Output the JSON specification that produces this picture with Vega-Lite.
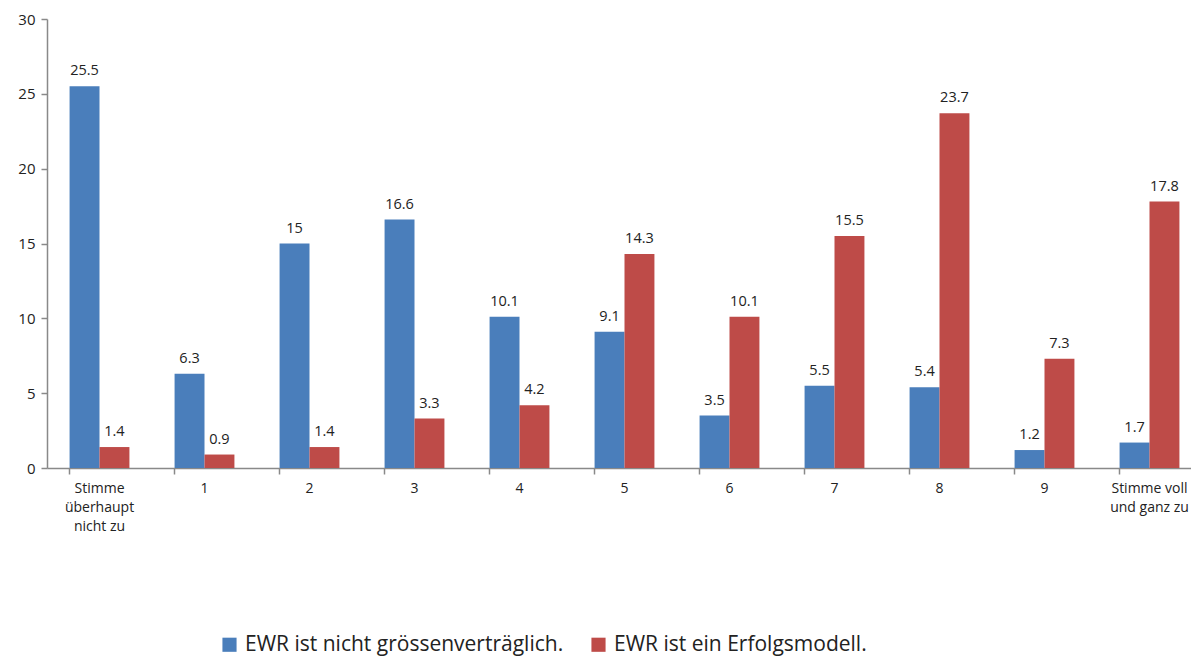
{
  "$schema": "https://vega.github.io/schema/vega-lite/v6.json",
  "autosize": {"type": "none"},
  "padding": {"left": 47, "top": 19, "right": 0, "bottom": 190},
  "width": 1155,
  "height": 449,
  "background": "white",
  "config": {
    "view": {"stroke": null},
    "font": "Open Sans",
    "axis": {"labelFont": "Open Sans", "labelColor": "#222", "domainColor": "#898989", "tickColor": "#898989", "domainWidth": 1.5, "tickWidth": 1.5, "grid": false, "title": null}
  },
  "data": {
    "values": [
      {"cat": "Stimme|überhaupt|nicht zu", "series": "EWR ist nicht grössenverträglich.", "v": 25.5},
      {"cat": "Stimme|überhaupt|nicht zu", "series": "EWR ist ein Erfolgsmodell.", "v": 1.4},
      {"cat": "1", "series": "EWR ist nicht grössenverträglich.", "v": 6.3},
      {"cat": "1", "series": "EWR ist ein Erfolgsmodell.", "v": 0.9},
      {"cat": "2", "series": "EWR ist nicht grössenverträglich.", "v": 15},
      {"cat": "2", "series": "EWR ist ein Erfolgsmodell.", "v": 1.4},
      {"cat": "3", "series": "EWR ist nicht grössenverträglich.", "v": 16.6},
      {"cat": "3", "series": "EWR ist ein Erfolgsmodell.", "v": 3.3},
      {"cat": "4", "series": "EWR ist nicht grössenverträglich.", "v": 10.1},
      {"cat": "4", "series": "EWR ist ein Erfolgsmodell.", "v": 4.2},
      {"cat": "5", "series": "EWR ist nicht grössenverträglich.", "v": 9.1},
      {"cat": "5", "series": "EWR ist ein Erfolgsmodell.", "v": 14.3},
      {"cat": "6", "series": "EWR ist nicht grössenverträglich.", "v": 3.5},
      {"cat": "6", "series": "EWR ist ein Erfolgsmodell.", "v": 10.1},
      {"cat": "7", "series": "EWR ist nicht grössenverträglich.", "v": 5.5},
      {"cat": "7", "series": "EWR ist ein Erfolgsmodell.", "v": 15.5},
      {"cat": "8", "series": "EWR ist nicht grössenverträglich.", "v": 5.4},
      {"cat": "8", "series": "EWR ist ein Erfolgsmodell.", "v": 23.7},
      {"cat": "9", "series": "EWR ist nicht grössenverträglich.", "v": 1.2},
      {"cat": "9", "series": "EWR ist ein Erfolgsmodell.", "v": 7.3},
      {"cat": "Stimme voll|und ganz zu", "series": "EWR ist nicht grössenverträglich.", "v": 1.7},
      {"cat": "Stimme voll|und ganz zu", "series": "EWR ist ein Erfolgsmodell.", "v": 17.8}
    ]
  },
  "encoding": {
    "x": {
      "field": "cat", "type": "nominal", "sort": null,
      "scale": {"paddingInner": 0.43, "paddingOuter": 0.215},
      "axis": {"labelAngle": 0, "labelExpr": "split(datum.label, '|')", "labelFontSize": 14, "labelLineHeight": 19, "labelPadding": 7, "bandPosition": 0, "tickSize": 6, "labelBaseline": "top"}
    },
    "xOffset": {"field": "series", "type": "nominal", "sort": ["EWR ist nicht grössenverträglich.", "EWR ist ein Erfolgsmodell."], "scale": {"paddingInner": 0, "paddingOuter": 0}},
    "y": {
      "field": "v", "type": "quantitative",
      "scale": {"domain": [0, 30], "nice": false},
      "axis": {"values": [0, 5, 10, 15, 20, 25, 30], "labelFontSize": 15, "tickSize": 6, "labelPadding": 6}
    }
  },
  "layer": [
    {
      "mark": {"type": "bar"},
      "encoding": {
        "color": {
          "field": "series", "type": "nominal",
          "sort": ["EWR ist nicht grössenverträglich.", "EWR ist ein Erfolgsmodell."],
          "scale": {"domain": ["EWR ist nicht grössenverträglich.", "EWR ist ein Erfolgsmodell."], "range": ["#4A7EBB", "#BE4B48"]},
          "legend": {"title": null, "orient": "none", "direction": "horizontal", "legendX": 172, "legendY": 615, "symbolType": "square", "symbolSize": 200, "symbolStrokeWidth": 0, "labelFontSize": 21, "labelLimit": 0, "labelColor": "#222", "columnPadding": 24, "labelOffset": 5}
        }
      }
    },
    {
      "mark": {"type": "text", "baseline": "bottom", "dy": -8, "fontSize": 14.5, "color": "#222"},
      "encoding": {"text": {"field": "v", "type": "quantitative"}}
    }
  ]
}
